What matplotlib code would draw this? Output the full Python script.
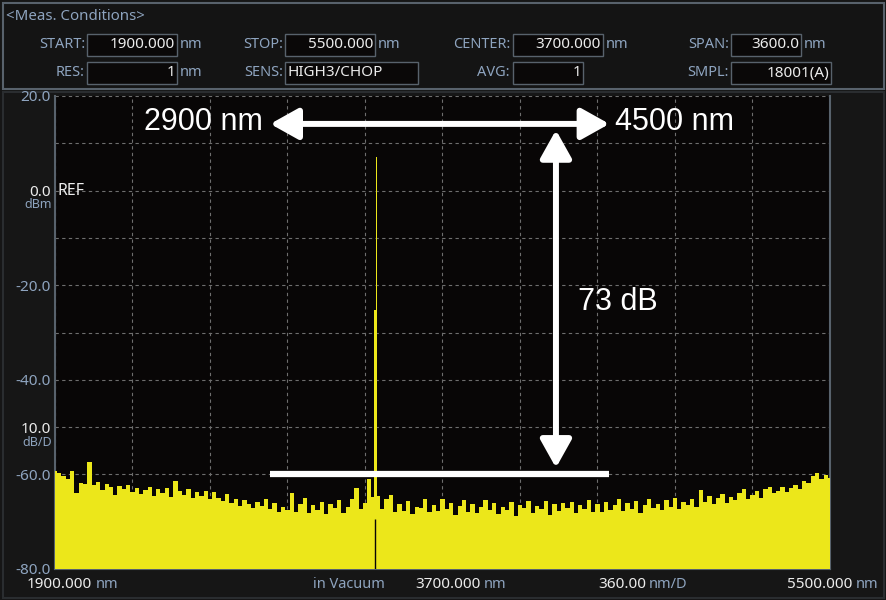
import numpy as np
import matplotlib.pyplot as plt
from matplotlib.patches import Rectangle

# ---- data ----
wl_start = 1900
wl_stop = 5500
wl_step = 20
noise_wl = np.arange(wl_start, wl_stop + 1, wl_step)
noise_db = [
    -59.2, -59.6, -60.4, -60.9, -59.3, -63.9, -61.8, -62.0, -57.4, -62.3,
    -61.6, -63.2, -62.0, -62.7, -64.4, -62.5, -63.0, -62.2, -63.8, -62.9,
    -64.1, -63.3, -62.6, -64.5, -63.0, -63.9, -62.8, -64.7, -61.4, -63.6,
    -64.3, -63.1, -65.0, -63.8, -64.6, -63.5, -65.2, -63.7, -64.9, -65.6,
    -64.2, -66.0, -65.1, -66.7, -65.4, -66.3, -67.1, -65.8, -66.6, -65.2,
    -67.4, -66.1, -68.0, -66.8, -67.5, -64.0, -67.9, -66.3, -65.0, -68.2,
    -66.4, -67.6, -65.9, -68.3, -66.2, -67.0, -65.5, -68.1, -66.8, -65.2,
    -62.8, -67.4, -66.0, -60.9,
    -64.8, -64.5, -67.3, -65.1, -64.4, -68.0,
    -66.2, -67.7, -65.6, -68.4, -66.9, -67.2, -65.3, -68.0, -66.5, -67.8,
    -65.2, -67.4, -66.0, -68.6, -66.7, -65.4, -67.9, -66.3, -68.2, -66.8,
    -65.5, -67.6, -66.1, -68.3, -66.9, -67.5, -65.9, -68.7, -66.4, -67.2,
    -65.7, -68.1, -66.6, -67.4, -65.6, -68.5, -66.3, -67.8, -66.0, -67.1,
    -65.8, -68.2, -66.5, -67.3, -65.4, -67.9, -66.2, -68.0, -65.9, -67.6,
    -66.4, -65.2, -67.8, -66.1, -67.3, -65.7, -68.1, -66.5, -65.3, -67.0,
    -66.2, -67.6, -65.5, -66.9, -64.9, -67.3, -65.8, -66.4, -65.1, -66.8,
    -63.4, -65.9, -64.6, -66.2, -65.0, -64.1, -66.0, -64.8, -65.5, -64.0,
    -63.0, -65.2, -64.4, -63.6, -64.9, -63.1, -62.7, -64.0, -63.5, -62.6,
    -63.8, -62.9, -62.2, -63.1, -61.5, -61.9, -60.4, -59.7, -61.0, -60.2,
    -60.8,
]
# laser line (3.39 um)
peak_wl = [3383, 3387, 3391, 3395]
peak_db = [-25.2, -25.2, 7.1, 7.1]
dip_wl = 3386
dip_top = -69.5

# annotation values
span_left = 2900
span_right = 4475
arrow_y = 14.1
vert_x = 4227
vert_top = 12.8
vert_bottom = -58.6
floor_level = -60

header_fields = [
    # label, value, unit, label right edge, box x0, box x1, row y, value align
    ("START:", "1900.000", "nm", 85, 87, 177, 45, "right"),
    ("RES:", "1", "nm", 85, 87, 177, 73, "right"),
    ("STOP:", "5500.000", "nm", 283, 285, 375, 45, "right"),
    ("SENS:", "HIGH3/CHOP", None, 283, 285, 418, 73, "left"),
    ("CENTER:", "3700.000", "nm", 510, 513, 603, 45, "right"),
    ("AVG:", "1", None, 510, 513, 583, 73, "right"),
    ("SPAN:", "3600.0", "nm", 729, 731, 801, 45, "right"),
    ("SMPL:", "18001(A)", None, 729, 731, 831, 73, "right"),
]

ytick_levels = [20, 10, 0, -10, -20, -30, -40, -50, -60, -70, -80]
ytick_labels = ["20.0", "", "0.0", "", "-20.0", "", "-40.0", "10.0", "-60.0", "", "-80.0"]

# ---- style ----
bg = "#161616"
plot_bg = "#080606"
edge = "#58626c"
blue = "#8ea4bf"
white = "#ececec"
yellow = "#ece71a"
grid_c = "#6e6e6e"
font = "Noto Sans"

wl = np.concatenate([noise_wl, peak_wl])
db = np.concatenate([noise_db, peak_db])
order = np.argsort(wl, kind="stable")
wl = wl[order]
db = db[order]

fig = plt.figure(figsize=(8.87, 6.0), dpi=100, facecolor=bg)

# overlay in pixel coords for the instrument panel
ov = fig.add_axes([0, 0, 1, 1], zorder=0)
ov.set_xlim(0, 887)
ov.set_ylim(600, 0)
ov.axis("off")

ov.add_patch(Rectangle((3, 3), 881, 86, facecolor="#141414", edgecolor=edge, lw=1.5))
ov.add_patch(Rectangle((3, 92), 881, 506, facecolor=bg, edgecolor="#2a2d30", lw=1.5))
ov.text(6, 17, "<Meas. Conditions>", color=blue, fontsize=10.8, family=font,
        ha="left", va="center")

for lab, val, unit, lx, bx0, bx1, y, al in header_fields:
    ov.text(lx, y, lab, color=blue, fontsize=10.5, family=font, ha="right", va="center")
    ov.add_patch(Rectangle((bx0, y - 11), bx1 - bx0, 22, facecolor="#0a0808",
                           edgecolor=edge, lw=1))
    if al == "right":
        ov.text(bx1 - 2, y, val, color=white, fontsize=11, family=font,
                ha="right", va="center")
    else:
        ov.text(bx0 + 3, y, val, color=white, fontsize=11, family=font,
                ha="left", va="center")
    if unit:
        ov.text(bx1 + 3, y, unit, color=blue, fontsize=10.5, family=font,
                ha="left", va="center")

# bottom readouts
by = 585
ov.text(92, by, "1900.000", color=white, fontsize=11, family=font, ha="right", va="center")
ov.text(96, by, "nm", color=blue, fontsize=10.5, family=font, ha="left", va="center")
ov.text(313, by, "in Vacuum", color=blue, fontsize=10.5, family=font, ha="left", va="center")
ov.text(415, by, "3700.000", color=white, fontsize=11, family=font, ha="left", va="center")
ov.text(484, by, "nm", color=blue, fontsize=10.5, family=font, ha="left", va="center")
ov.text(646, by, "360.00", color=white, fontsize=11, family=font, ha="right", va="center")
ov.text(649, by, "nm/D", color=blue, fontsize=10.5, family=font, ha="left", va="center")
ov.text(852, by, "5500.000", color=white, fontsize=11, family=font, ha="right", va="center")
ov.text(856, by, "nm", color=blue, fontsize=10.5, family=font, ha="left", va="center")
ov.text(52, 205, "dBm", color=blue, fontsize=9, family=font, ha="right", va="center")
ov.text(52, 442, "dB/D", color=blue, fontsize=9, family=font, ha="right", va="center")

# ---- trace ----
ax = fig.add_axes([55 / 887, 31 / 600, 775 / 887, 473 / 600], zorder=2)
ax.set_facecolor(plot_bg)
ax.set_xlim(wl_start, wl_stop)
ax.set_ylim(-80, 20)

ax.fill_between(wl, -80, db, step="mid", color=yellow, lw=0, zorder=3)
ax.vlines(dip_wl, -80, dip_top, color=plot_bg, lw=1, zorder=4)

ax.set_xticks(np.arange(wl_start, wl_stop + 1, 360))
ax.set_xticklabels([])
ax.set_yticks(ytick_levels)
ax.set_yticklabels(ytick_labels, family=font, fontsize=11)
for t in ax.get_yticklabels():
    t.set_color(white if t.get_text() in ("0.0", "10.0") else blue)
ax.tick_params(length=0, pad=3)
ax.grid(True, color=grid_c, ls=(0, (3, 3)), lw=0.8, zorder=1)
for s in ax.spines.values():
    s.set_color(edge)
    s.set_linewidth(1.5)
ax.spines["top"].set_visible(False)

ax.text(wl_start + 12, 0, "REF", color=white, fontsize=11.5, family=font,
        ha="left", va="center", zorder=5)

# ---- annotations ----
arrow = dict(arrowstyle="<|-|>,head_length=1.7,head_width=0.95", mutation_scale=10,
             color="white", lw=4.3, shrinkA=0, shrinkB=0)
ax.annotate("", xy=(span_left, arrow_y), xytext=(span_right, arrow_y),
            arrowprops=arrow, zorder=6)
ax.annotate("", xy=(vert_x, vert_top), xytext=(vert_x, vert_bottom),
            arrowprops=arrow, zorder=6)
ax.plot([span_left, span_right], [floor_level, floor_level], color="white", lw=4.5,
        solid_capstyle="butt", zorder=6)

ax.text(2866, 14.5, "2900 nm", color="white", fontsize=22, family="Liberation Sans",
        ha="right", va="center", zorder=6)
ax.text(4501, 14.5, "4500 nm", color="white", fontsize=22, family="Liberation Sans",
        ha="left", va="center", zorder=6)
ax.text(4329, -23.6, "73 dB", color="white", fontsize=22, family="Liberation Sans",
        ha="left", va="center", zorder=6)

fig.savefig("out.png", dpi=100, facecolor=bg)
